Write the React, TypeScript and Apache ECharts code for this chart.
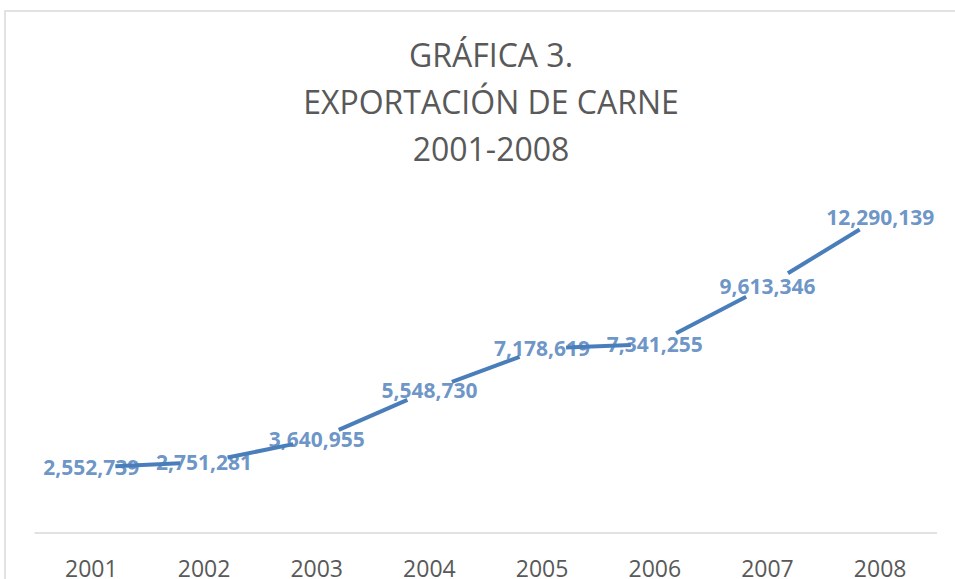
import React, { useEffect, useRef } from "react";
import * as echarts from "echarts";

const titleLines = ["GRÁFICA 3.", "EXPORTACIÓN DE CARNE", "2001-2008"];
const years = ["2001", "2002", "2003", "2004", "2005", "2006", "2007", "2008"];
const values = [2552739, 2751281, 3640955, 5548730, 7178619, 7341255, 9613346, 12290139];

const LINE_COLOR = "#4a7ebb";
const GAP = 24;

export default function App() {
  const ref = useRef<HTMLDivElement>(null);
  useEffect(() => {
    if (!ref.current) return;
    const chart = echarts.init(ref.current, null, { renderer: "svg" });
    const segments = values.slice(0, -1).map((v, i) => [i, v, values[i + 1]]);
    chart.setOption({
      animation: false,
      backgroundColor: "#ffffff",
      title: {
        text: titleLines.join("\n"),
        left: 486,
        top: 26,
        textAlign: "center",
        textStyle: {
          fontFamily: "Open Sans",
          fontWeight: 400,
          fontSize: 32,
          lineHeight: 47,
          color: "#595959",
        },
      },
      graphic: [
        {
          type: "rect",
          shape: { x: 5, y: 11, width: 980, height: 620 },
          style: { fill: "none", stroke: "#d9d9d9", lineWidth: 1.5 },
          silent: true,
        },
      ],
      grid: { left: 35, right: 18.5, top: 173, bottom: 46 },
      xAxis: {
        type: "category",
        data: years,
        boundaryGap: true,
        axisLine: { lineStyle: { color: "#d9d9d9", width: 1.5 } },
        axisTick: { show: false },
        axisLabel: {
          fontFamily: "Open Sans",
          fontSize: 23,
          color: "#595959",
          margin: 23,
        },
      },
      yAxis: {
        type: "value",
        min: 0,
        max: 14000000,
        show: false,
        splitLine: { show: false },
      },
      series: [
        {
          type: "scatter",
          data: values,
          symbolSize: 1,
          itemStyle: { color: "rgba(0,0,0,0)" },
          z: 2,
          label: {
            show: true,
            position: "inside",
            formatter: (p: any) => Number(p.value).toLocaleString("en-US"),
            fontFamily: "Open Sans",
            fontWeight: "bold",
            fontSize: 21,
            color: "#4679b8",
          },
        },
        {
          type: "custom",
          data: segments,
          encode: { x: 0, y: 1 },
          z: 3,
          renderItem: (params: any, api: any) => {
            const i = api.value(0);
            const a = api.coord([i, api.value(1)]);
            const b = api.coord([i + 1, api.value(2)]);
            const dx = b[0] - a[0];
            const dy = b[1] - a[1];
            const len = Math.sqrt(dx * dx + dy * dy);
            const ux = dx / len;
            const uy = dy / len;
            return {
              type: "line",
              shape: {
                x1: a[0] + ux * GAP,
                y1: a[1] + uy * GAP,
                x2: b[0] - ux * GAP,
                y2: b[1] - uy * GAP,
              },
              style: { stroke: LINE_COLOR, lineWidth: 4, lineCap: "butt" },
            };
          },
        },
      ],
    });
    return () => chart.dispose();
  }, []);
  return (
    <div
      ref={ref}
      style={{ position: "absolute", left: 0, top: 0, width: 955, height: 579 }}
    />
  );
}
